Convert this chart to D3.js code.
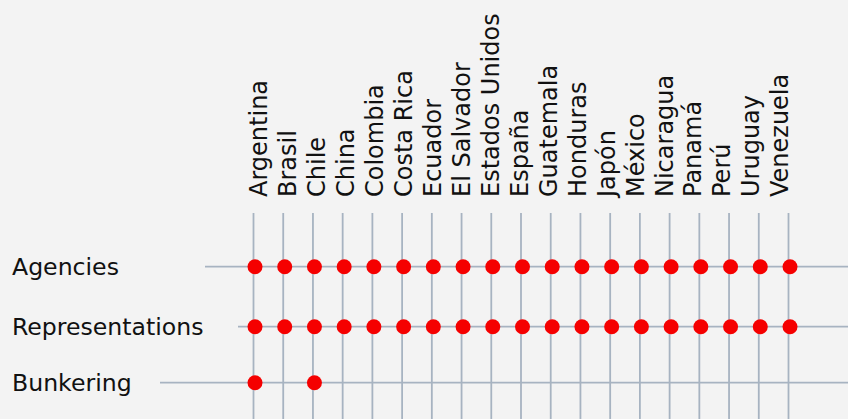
<!DOCTYPE html>
<html>
<head>
<meta charset="utf-8">
<script src="https://cdn.jsdelivr.net/npm/d3@7"></script>
<style>
  html, body { margin: 0; padding: 0; background: #f3f3f3; }
  svg { display: block; }
  text { font-family: "DejaVu Sans", Verdana, sans-serif; fill: #111; }
</style>
</head>
<body>
<svg id="chart" width="848" height="419"></svg>
<script>
// ---- data ----
const countries = ["Argentina","Brasil","Chile","China","Colombia","Costa Rica","Ecuador","El Salvador","Estados Unidos","España","Guatemala","Honduras","Japón","México","Nicaragua","Panamá","Perú","Uruguay","Venezuela"];
const services = ["Agencies","Representations","Bunkering"];
const agencies = ["Argentina","Brasil","Chile","China","Colombia","Costa Rica","Ecuador","El Salvador","Estados Unidos","España","Guatemala","Honduras","Japón","México","Nicaragua","Panamá","Perú","Uruguay","Venezuela"];
const representations = ["Argentina","Brasil","Chile","China","Colombia","Costa Rica","Ecuador","El Salvador","Estados Unidos","España","Guatemala","Honduras","Japón","México","Nicaragua","Panamá","Perú","Uruguay","Venezuela"];
const bunkering = ["Argentina","Chile"];

// ---- layout ----
const W = 848, H = 419;
const svg = d3.select("#chart");
svg.append("rect").attr("width", W).attr("height", H).attr("fill", "#f3f3f3");

const x = d3.scalePoint().domain(countries).range([253.5, 788.5]);
const xLabel = d3.scalePoint().domain(countries).range([267.3, 788.3]);
const y = d3.scaleOrdinal().domain(services).range([266.7, 326.7, 382.7]);

const gridColor = "#a7b3c1";
const lineStart = { "Agencies": 205, "Representations": 238, "Bunkering": 160 };

// vertical grid lines
svg.append("g").selectAll("line").data(countries).join("line")
  .attr("x1", d => x(d)).attr("x2", d => x(d))
  .attr("y1", 213).attr("y2", H)
  .attr("stroke", gridColor).attr("stroke-width", 1.8);

// horizontal row lines
svg.append("g").selectAll("line").data(services).join("line")
  .attr("x1", d => lineStart[d]).attr("x2", W)
  .attr("y1", d => y(d)).attr("y2", d => y(d))
  .attr("stroke", gridColor).attr("stroke-width", 1.8);

// column labels
svg.append("g").selectAll("text").data(countries).join("text")
  .attr("transform", d => `translate(${xLabel(d)},197) rotate(-90)`)
  .attr("text-anchor", "start")
  .attr("font-size", 24)
  .text(d => d);

// row labels
svg.append("g").selectAll("text").data(services).join("text")
  .attr("x", 12).attr("y", d => y(d))
  .attr("dy", "0.36em")
  .attr("font-size", 23.6)
  .text(d => d);

// dots
const rows = [
  { service: "Agencies", list: agencies },
  { service: "Representations", list: representations },
  { service: "Bunkering", list: bunkering }
];
const pts = rows.flatMap(r => r.list.map(c => ({ service: r.service, country: c })));
svg.append("g").selectAll("circle").data(pts).join("circle")
  .attr("cx", d => x(d.country) + 1.5)
  .attr("cy", d => y(d.service))
  .attr("r", 7.5)
  .attr("fill", "#f50000");
</script>
</body>
</html>
